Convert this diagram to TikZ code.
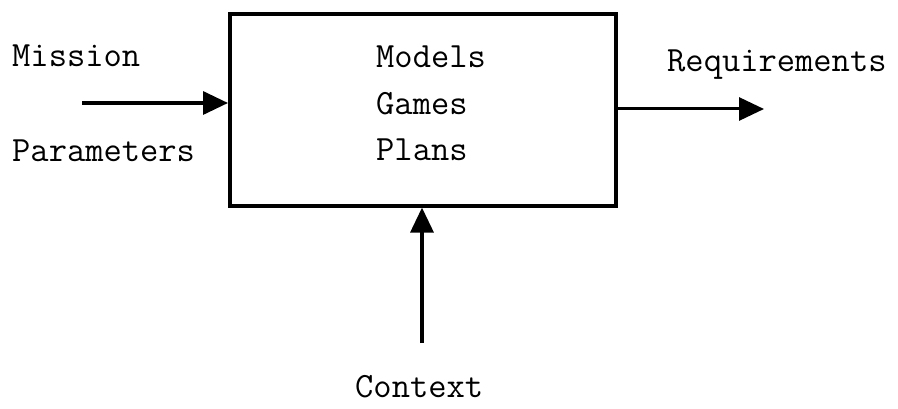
\documentclass[tikz,border=0pt]{standalone}
\usepackage{fontspec}
\usetikzlibrary{arrows.meta}
\tikzset{
  lbl/.style={font=\ttfamily\fontsize{35.5}{35.5}\selectfont, inner sep=0pt, anchor=base west},
  flow/.style={line width=3.4pt, -{Triangle[length=25pt, width=23pt]}},
}
\begin{document}
\begin{tikzpicture}[x=1pt, y=-1pt]
\useasboundingbox (0,0) rectangle (898,409);
% central process box
\node[draw, line width=3.6pt, minimum width=386pt, minimum height=192pt, inner sep=0pt, anchor=north west] (box) at (228,12) {};
% contents of the box
\node[lbl] (models) at (376,68) {Models};
\node[lbl] (games) at (376,115) {Games};
\node[lbl] (plans) at (376,161) {Plans};
% input on the left
\node[lbl] (mission) at (12,67) {Mission};
\node[lbl] (params) at (12,162) {Parameters};
\coordinate (inL) at (82,103);
\draw[flow] (inL) -- (inL -| box.west);
% output on the right
\node[lbl] (req) at (667,72) {Requirements};
\coordinate (outR) at (764,109);
\draw[flow, line width=3pt] (outR -| box.east) -- (outR);
% context from below
\node[lbl] (ctx) at (355,397) {Context};
\coordinate (ctxS) at (422,343);
\draw[flow] (ctxS) -- (ctxS |- box.south);
\end{tikzpicture}
\end{document}
